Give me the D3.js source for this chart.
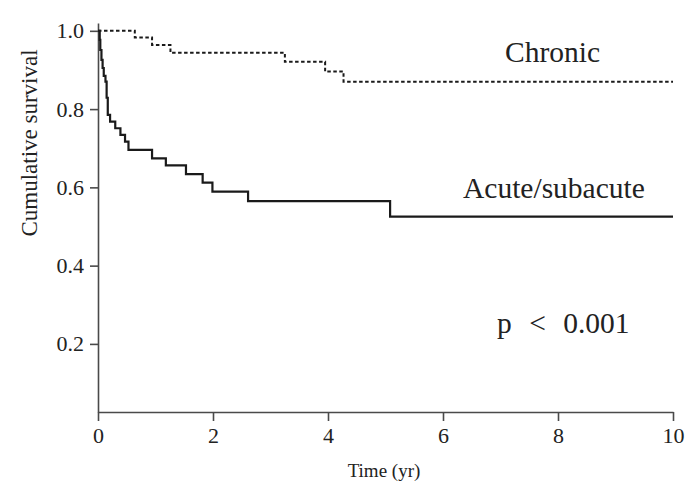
<!DOCTYPE html>
<html>
<head>
<meta charset="utf-8">
<script src="https://cdn.jsdelivr.net/npm/d3@7"></script>
<style>
  html, body { margin: 0; padding: 0; background: #fff; }
  svg { display: block; font-family: "Liberation Serif", "Times New Roman", serif; }
</style>
</head>
<body>
<div id="chart"></div>
<script>
// Kaplan-Meier steps: [time (yr), survival after the drop]
const chronicSteps = [
  [0, 1.0], [0.64, 0.983], [0.94, 0.964], [1.26, 0.944],
  [3.25, 0.921], [3.95, 0.896], [4.27, 0.870], [10, 0.870],
];
const acuteSteps = [
  [0, 1.0], [0.03, 0.977], [0.04, 0.951], [0.06, 0.926], [0.08, 0.905],
  [0.10, 0.885], [0.13, 0.870], [0.15, 0.829], [0.17, 0.785], [0.21, 0.768],
  [0.30, 0.751], [0.39, 0.734], [0.47, 0.717], [0.53, 0.696], [0.94, 0.674],
  [1.18, 0.656], [1.53, 0.634], [1.82, 0.612], [1.99, 0.589], [2.61, 0.565],
  [5.08, 0.525], [10, 0.525],
];
const xTicks = [0, 2, 4, 6, 8, 10];
const yTicks = [0.2, 0.4, 0.6, 0.8, 1.0];
const seriesLabels = ['Chronic', 'Acute/subacute'];
const pText = 'p < 0.001';

const COLORS = { ink: '#1a1a1a', axis: '#4a4a4a', text: '#222' };
const SERIF = '"Liberation Serif", "Times New Roman", serif';
const W = 689, H = 491;

const svg = d3.select('#chart').append('svg')
  .attr('width', W).attr('height', H).attr('viewBox', `0 0 ${W} ${H}`)
  .attr('font-family', SERIF);

const x = d3.scaleLinear().domain([0, 10]).range([98, 673]);
const y = d3.scaleLinear().domain([0.026, 1.02]).range([412, 23]);

// axes
const xAxis = svg.append('g').attr('transform', `translate(0,${y.range()[0]})`)
  .call(d3.axisBottom(x).tickValues(xTicks).tickSize(9).tickSizeOuter(0).tickPadding(6));
const yAxis = svg.append('g').attr('transform', `translate(${x.range()[0]},0)`)
  .call(d3.axisLeft(y).tickValues(yTicks).tickFormat(d3.format('.1f')).tickSize(8).tickSizeOuter(0).tickPadding(6));

[xAxis, yAxis].forEach(g => {
  g.attr('font-family', SERIF).attr('font-size', 22);
  g.select('.domain').attr('stroke', COLORS.axis).attr('stroke-width', 1.6);
  g.selectAll('.tick line').attr('stroke', COLORS.axis).attr('stroke-width', 1.6);
  g.selectAll('.tick text').attr('fill', COLORS.text);
});

// curves
const stepLine = d3.line().x(d => x(d[0])).y(d => y(d[1])).curve(d3.curveStepAfter);

svg.append('path').datum(acuteSteps)
  .attr('d', stepLine).attr('fill', 'none')
  .attr('stroke', COLORS.ink).attr('stroke-width', 2.2);

svg.append('path').datum(chronicSteps)
  .attr('d', stepLine).attr('fill', 'none')
  .attr('stroke', COLORS.ink).attr('stroke-width', 2)
  .attr('stroke-dasharray', '3.5,2.5');

// labels
const label = (txt, px, py, size, anchor = 'start') => svg.append('text')
  .attr('x', px).attr('y', py).attr('text-anchor', anchor)
  .attr('fill', COLORS.text).attr('font-size', size).text(txt);

label(seriesLabels[0], 505, 62, 29.5);
label(seriesLabels[1], 463, 198, 29.5);
label(pText, 497, 333, 29.5).attr('word-spacing', 10);

label('Time (yr)', 384, 477, 19, 'middle');
svg.append('text')
  .attr('transform', 'translate(37,143) rotate(-90)')
  .attr('text-anchor', 'middle').attr('fill', COLORS.text)
  .attr('font-size', 23).text('Cumulative survival');
</script>
</body>
</html>
